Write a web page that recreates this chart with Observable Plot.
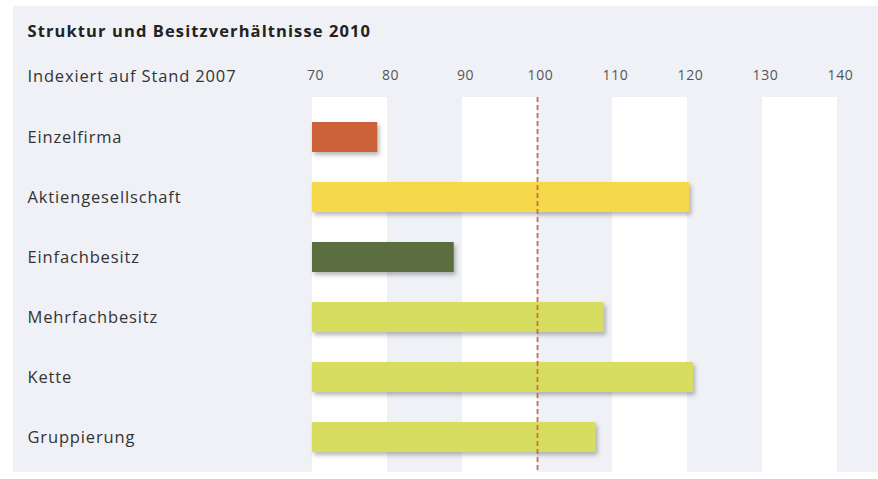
<!DOCTYPE html>
<html><head><meta charset="utf-8">
<script src="https://cdn.jsdelivr.net/npm/d3@7"></script>
<script src="https://cdn.jsdelivr.net/npm/@observablehq/plot@0.6"></script>
<style>
body{margin:0;background:#fff;}
#chart{position:absolute;left:13px;top:6px;}
</style></head><body><div id="chart"></div>
<script>
const categories = ["Einzelfirma","Aktiengesellschaft","Einfachbesitz","Mehrfachbesitz","Kette","Gruppierung"];
const values = [78.7, 120.3, 88.9, 108.9, 120.8, 107.8];
const colorGroups = ["Einzelfirma","Aktiengesellschaft","Einfachbesitz","Besitz","Besitz","Besitz"];
const tickValues = [70,80,90,100,110,120,130,140];
const whiteBandStarts = [70,90,110,130];
const baseline = 70;
const reference = 100;
const titleText = "Struktur und Besitzverhältnisse 2010";
const subtitleText = "Indexiert auf Stand 2007";

const data = categories.map((c,i)=>({category:c, value:values[i], group:colorGroups[i]}));
const font = "'Open Sans', sans-serif";

const chart = Plot.plot({
  width: 865, height: 466,
  marginLeft: 299, marginRight: 41, marginTop: 91, marginBottom: 0,
  style: {background: "#eff1f6", fontFamily: font},
  x: {domain: [70, 140], axis: null},
  y: {domain: categories, padding: 0.5, paddingOuter: 0.36, align: 0.55, axis: null},
  color: {domain: ["Einzelfirma","Aktiengesellschaft","Einfachbesitz","Besitz"], range: ["#cc6237","#f6d94b","#5b6e3f","#d7de5f"]},
  marks: [
    Plot.rect(whiteBandStarts, {x1: d=>d, x2: d=>d+10, fill: "white"}),
    Plot.barX(data, {y: "category", x1: () => baseline, x2: "value", fill: "group", className: "bars"}),
    Plot.ruleX([reference], {stroke: "#c96e42", strokeWidth: 1.8, strokeDasharray: "5,3"}),
    Plot.axisX({anchor: "top", ticks: tickValues, tickSize: 0, tickPadding: 18, dx: 3, fontSize: 14, fill: "#555", label: null, className: "xticks"}),
    Plot.axisY({anchor: "left", tickSize: 0, tickPadding: 0, textAnchor: "start", dx: -285, fontSize: 16.5, fill: "#333", label: null, className: "spaced"}),
    Plot.text([titleText], {frameAnchor: "top-left", dx: -285, dy: -72, text: d=>d, textAnchor: "start", fontSize: 16.5, fontWeight: "bold", fill: "#222", className: "titletext"}),
    Plot.text([subtitleText], {frameAnchor: "top-left", dx: -285, dy: -27, text: d=>d, textAnchor: "start", fontSize: 16.5, fill: "#333", className: "spaced"})
  ]
});
d3.select(chart).selectAll("g.bars rect, g[class*=bars] rect").style("filter", "drop-shadow(2px 3px 2px rgba(0,0,0,0.28))");
d3.select(chart).selectAll("g[class*=spaced] text").style("letter-spacing", "0.85px");
d3.select(chart).selectAll("g[class*=titletext] text").style("letter-spacing", "1.1px");
d3.select(chart).selectAll("g[class*=xticks] text").style("letter-spacing", "0.6px");
document.getElementById("chart").appendChild(chart);
</script></body></html>
